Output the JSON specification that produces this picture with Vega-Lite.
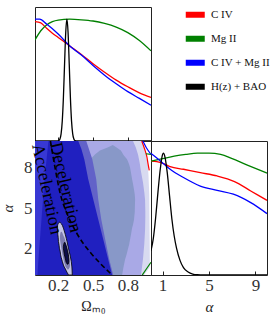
{
  "$schema": "https://vega.github.io/schema/vega-lite/v6.json",
  "padding": {"left": 0, "top": 6, "right": 5, "bottom": 5},
  "background": "white",
  "config": {
    "view": {"stroke": "#222", "strokeWidth": 1},
    "axis": {"grid": false, "domain": false, "tickSize": -4, "tickColor": "#222", "labelFont": "Liberation Serif", "labelFontSize": 17, "labelColor": "#333", "labelPadding": 6, "titleFont": "Liberation Serif", "titleFontSize": 14, "titleFontWeight": "normal", "titleColor": "#222", "titlePadding": 6},
    "axisY": {"labelPadding": 7, "titlePadding": 8},
    "line": {"interpolate": "monotone"},
    "legend": {"symbolStrokeWidth": 6}
  },
  "datasets": {
    "om": [
      {"series": "C IV", "x": 0, "p": 0.98}, {"series": "C IV", "x": 0.05, "p": 0.97}, {"series": "C IV", "x": 0.1, "p": 0.925}, {"series": "C IV", "x": 0.15, "p": 0.885}, {"series": "C IV", "x": 0.2, "p": 0.85}, {"series": "C IV", "x": 0.3, "p": 0.78}, {"series": "C IV", "x": 0.4, "p": 0.71}, {"series": "C IV", "x": 0.5, "p": 0.635}, {"series": "C IV", "x": 0.6, "p": 0.565}, {"series": "C IV", "x": 0.7, "p": 0.5}, {"series": "C IV", "x": 0.8, "p": 0.445}, {"series": "C IV", "x": 0.9, "p": 0.395}, {"series": "C IV", "x": 1.0, "p": 0.357},
      {"series": "Mg II", "x": 0, "p": 0.83}, {"series": "Mg II", "x": 0.05, "p": 0.905}, {"series": "Mg II", "x": 0.1, "p": 0.952}, {"series": "Mg II", "x": 0.15, "p": 0.98}, {"series": "Mg II", "x": 0.2, "p": 0.993}, {"series": "Mg II", "x": 0.3, "p": 1.0}, {"series": "Mg II", "x": 0.4, "p": 0.995}, {"series": "Mg II", "x": 0.5, "p": 0.985}, {"series": "Mg II", "x": 0.6, "p": 0.965}, {"series": "Mg II", "x": 0.7, "p": 0.935}, {"series": "Mg II", "x": 0.8, "p": 0.89}, {"series": "Mg II", "x": 0.9, "p": 0.825}, {"series": "Mg II", "x": 1.0, "p": 0.74},
      {"series": "C IV + Mg II", "x": 0, "p": 1.0}, {"series": "C IV + Mg II", "x": 0.04, "p": 1.0}, {"series": "C IV + Mg II", "x": 0.1, "p": 0.96}, {"series": "C IV + Mg II", "x": 0.2, "p": 0.878}, {"series": "C IV + Mg II", "x": 0.3, "p": 0.78}, {"series": "C IV + Mg II", "x": 0.4, "p": 0.705}, {"series": "C IV + Mg II", "x": 0.5, "p": 0.62}, {"series": "C IV + Mg II", "x": 0.6, "p": 0.54}, {"series": "C IV + Mg II", "x": 0.7, "p": 0.47}, {"series": "C IV + Mg II", "x": 0.8, "p": 0.405}, {"series": "C IV + Mg II", "x": 0.9, "p": 0.35}, {"series": "C IV + Mg II", "x": 1.0, "p": 0.294},
      {"series": "H(z) + BAO", "x": 0, "p": 0}, {"series": "H(z) + BAO", "x": 0.185, "p": 0.001}, {"series": "H(z) + BAO", "x": 0.205, "p": 0.004}, {"series": "H(z) + BAO", "x": 0.215, "p": 0.017}, {"series": "H(z) + BAO", "x": 0.225, "p": 0.059}, {"series": "H(z) + BAO", "x": 0.235, "p": 0.163}, {"series": "H(z) + BAO", "x": 0.245, "p": 0.36}, {"series": "H(z) + BAO", "x": 0.255, "p": 0.635}, {"series": "H(z) + BAO", "x": 0.265, "p": 0.893}, {"series": "H(z) + BAO", "x": 0.275, "p": 1.0}, {"series": "H(z) + BAO", "x": 0.285, "p": 0.893}, {"series": "H(z) + BAO", "x": 0.295, "p": 0.635}, {"series": "H(z) + BAO", "x": 0.305, "p": 0.36}, {"series": "H(z) + BAO", "x": 0.315, "p": 0.163}, {"series": "H(z) + BAO", "x": 0.325, "p": 0.059}, {"series": "H(z) + BAO", "x": 0.335, "p": 0.017}, {"series": "H(z) + BAO", "x": 0.345, "p": 0.004}, {"series": "H(z) + BAO", "x": 0.365, "p": 0.001}, {"series": "H(z) + BAO", "x": 1.0, "p": 0}
    ],
    "al": [
      {"series": "C IV", "x": 0, "p": 0.935}, {"series": "C IV", "x": 0.5, "p": 0.93}, {"series": "C IV", "x": 1.07, "p": 0.915}, {"series": "C IV", "x": 1.65, "p": 0.89}, {"series": "C IV", "x": 2.8, "p": 0.868}, {"series": "C IV", "x": 4.25, "p": 0.84}, {"series": "C IV", "x": 5.7, "p": 0.813}, {"series": "C IV", "x": 7.2, "p": 0.767}, {"series": "C IV", "x": 8.6, "p": 0.69}, {"series": "C IV", "x": 10, "p": 0.613},
      {"series": "Mg II", "x": 0, "p": 0.935}, {"series": "Mg II", "x": 1, "p": 0.955}, {"series": "Mg II", "x": 2, "p": 0.975}, {"series": "Mg II", "x": 3, "p": 0.99}, {"series": "Mg II", "x": 4, "p": 1.0}, {"series": "Mg II", "x": 5, "p": 1.0}, {"series": "Mg II", "x": 6, "p": 0.99}, {"series": "Mg II", "x": 7, "p": 0.955}, {"series": "Mg II", "x": 8, "p": 0.915}, {"series": "Mg II", "x": 9, "p": 0.875}, {"series": "Mg II", "x": 10, "p": 0.836},
      {"series": "C IV + Mg II", "x": 0, "p": 0.997}, {"series": "C IV + Mg II", "x": 0.5, "p": 0.96}, {"series": "C IV + Mg II", "x": 1.07, "p": 0.915}, {"series": "C IV + Mg II", "x": 1.65, "p": 0.868}, {"series": "C IV + Mg II", "x": 2.8, "p": 0.8}, {"series": "C IV + Mg II", "x": 4.25, "p": 0.73}, {"series": "C IV + Mg II", "x": 5.7, "p": 0.695}, {"series": "C IV + Mg II", "x": 7.1, "p": 0.663}, {"series": "C IV + Mg II", "x": 8.6, "p": 0.594}, {"series": "C IV + Mg II", "x": 10, "p": 0.504},
      {"series": "H(z) + BAO", "x": 0, "p": 0.2}, {"series": "H(z) + BAO", "x": 0.2, "p": 0.3}, {"series": "H(z) + BAO", "x": 0.4, "p": 0.47}, {"series": "H(z) + BAO", "x": 0.6, "p": 0.68}, {"series": "H(z) + BAO", "x": 0.8, "p": 0.87}, {"series": "H(z) + BAO", "x": 1.0, "p": 0.99}, {"series": "H(z) + BAO", "x": 1.07, "p": 1.0}, {"series": "H(z) + BAO", "x": 1.2, "p": 0.97}, {"series": "H(z) + BAO", "x": 1.4, "p": 0.84}, {"series": "H(z) + BAO", "x": 1.6, "p": 0.65}, {"series": "H(z) + BAO", "x": 1.8, "p": 0.46}, {"series": "H(z) + BAO", "x": 2.0, "p": 0.32}, {"series": "H(z) + BAO", "x": 2.2, "p": 0.22}, {"series": "H(z) + BAO", "x": 2.5, "p": 0.12}, {"series": "H(z) + BAO", "x": 2.8, "p": 0.06}, {"series": "H(z) + BAO", "x": 3.2, "p": 0.025}, {"series": "H(z) + BAO", "x": 3.6, "p": 0.008}, {"series": "H(z) + BAO", "x": 4.0, "p": 0.002}, {"series": "H(z) + BAO", "x": 4.5, "p": 0}, {"series": "H(z) + BAO", "x": 10, "p": 0}
    ],
    "regions": [
      {"region": "A", "om": 0, "lo": 0, "hi": 10}, {"region": "A", "om": 0.922, "lo": 0, "hi": 10}, {"region": "A", "om": 0.94, "lo": 0, "hi": 9.5}, {"region": "A", "om": 0.955, "lo": 0.18, "hi": 9.0}, {"region": "A", "om": 0.972, "lo": 0.38, "hi": 8.3}, {"region": "A", "om": 0.978, "lo": 0.45, "hi": 7.5}, {"region": "A", "om": 0.985, "lo": 0.55, "hi": 6.0}, {"region": "A", "om": 0.988, "lo": 0.58, "hi": 3.0}, {"region": "A", "om": 0.99, "lo": 0.6, "hi": 0.7},
      {"region": "B", "om": 0, "lo": 0, "hi": 10}, {"region": "B", "om": 0.845, "lo": 0, "hi": 10}, {"region": "B", "om": 0.87, "lo": 0, "hi": 9.5}, {"region": "B", "om": 0.888, "lo": 0, "hi": 9.0}, {"region": "B", "om": 0.902, "lo": 0, "hi": 8.4}, {"region": "B", "om": 0.914, "lo": 0, "hi": 7.7}, {"region": "B", "om": 0.931, "lo": 1.2, "hi": 6.9}, {"region": "B", "om": 0.942, "lo": 2.3, "hi": 6.2}, {"region": "B", "om": 0.949, "lo": 3.4, "hi": 5.6}, {"region": "B", "om": 0.951, "lo": 4.3, "hi": 4.8},
      {"region": "C", "om": 0.43, "lo": 0, "hi": 7.14}, {"region": "C", "om": 0.44, "lo": 0, "hi": 7.7}, {"region": "C", "om": 0.459, "lo": 0, "hi": 8.26}, {"region": "C", "om": 0.48, "lo": 0, "hi": 8.65}, {"region": "C", "om": 0.519, "lo": 0, "hi": 9.01}, {"region": "C", "om": 0.56, "lo": 0, "hi": 9.3}, {"region": "C", "om": 0.631, "lo": 0, "hi": 9.53}, {"region": "C", "om": 0.67, "lo": 0, "hi": 9.7}, {"region": "C", "om": 0.7, "lo": 0, "hi": 9.53}, {"region": "C", "om": 0.74, "lo": 0, "hi": 9.3}, {"region": "C", "om": 0.751, "lo": 0, "hi": 9.15}, {"region": "C", "om": 0.763, "lo": 0.6, "hi": 8.95}, {"region": "C", "om": 0.777, "lo": 1.17, "hi": 8.8}, {"region": "C", "om": 0.792, "lo": 1.6, "hi": 8.65}, {"region": "C", "om": 0.8, "lo": 1.9, "hi": 8.5}, {"region": "C", "om": 0.811, "lo": 2.25, "hi": 8.26}, {"region": "C", "om": 0.82, "lo": 2.66, "hi": 8.0}, {"region": "C", "om": 0.826, "lo": 2.95, "hi": 7.7}, {"region": "C", "om": 0.837, "lo": 3.5, "hi": 7.14}, {"region": "C", "om": 0.845, "lo": 3.75, "hi": 6.8}, {"region": "C", "om": 0.853, "lo": 4.1, "hi": 6.4}, {"region": "C", "om": 0.86, "lo": 4.7, "hi": 6.0}, {"region": "C", "om": 0.863, "lo": 5.65, "hi": 5.65},
      {"region": "E", "om": 0, "lo": 0, "hi": 10}, {"region": "E", "om": 0.442, "lo": 0, "hi": 10}, {"region": "E", "om": 0.494, "lo": 0, "hi": 8.63}, {"region": "E", "om": 0.528, "lo": 0, "hi": 7.14}, {"region": "E", "om": 0.545, "lo": 0, "hi": 5.65}, {"region": "E", "om": 0.571, "lo": 0, "hi": 4.16}, {"region": "E", "om": 0.605, "lo": 0, "hi": 2.66}, {"region": "E", "om": 0.64, "lo": 0, "hi": 1.17}, {"region": "E", "om": 0.674, "lo": 0, "hi": 0},
      {"region": "D", "om": 0, "lo": 0, "hi": 10}, {"region": "D", "om": 0.373, "lo": 0, "hi": 10}, {"region": "D", "om": 0.4, "lo": 0, "hi": 9.4}, {"region": "D", "om": 0.425, "lo": 0, "hi": 8.63}, {"region": "D", "om": 0.459, "lo": 0, "hi": 7.14}, {"region": "D", "om": 0.502, "lo": 0, "hi": 5.65}, {"region": "D", "om": 0.545, "lo": 0, "hi": 4.16}, {"region": "D", "om": 0.588, "lo": 0, "hi": 2.66}, {"region": "D", "om": 0.631, "lo": 0, "hi": 1.17}, {"region": "D", "om": 0.665, "lo": 0, "hi": 0},
      {"region": "F", "om": 0, "lo": 0, "hi": 10}, {"region": "F", "om": 0.021, "lo": 0, "hi": 10}, {"region": "F", "om": 0.03, "lo": 1.17, "hi": 10}, {"region": "F", "om": 0.056, "lo": 4.16, "hi": 10}, {"region": "F", "om": 0.082, "lo": 7.14, "hi": 10}, {"region": "F", "om": 0.116, "lo": 10, "hi": 10},
      {"region": "H1", "om": 0.193, "lo": 3.45, "hi": 3.55}, {"region": "H1", "om": 0.195, "lo": 3.25, "hi": 3.7}, {"region": "H1", "om": 0.197, "lo": 3.0, "hi": 3.77}, {"region": "H1", "om": 0.2, "lo": 2.8, "hi": 3.84}, {"region": "H1", "om": 0.202, "lo": 2.5, "hi": 3.87}, {"region": "H1", "om": 0.208, "lo": 2.2, "hi": 3.92}, {"region": "H1", "om": 0.21, "lo": 2.0, "hi": 3.93}, {"region": "H1", "om": 0.217, "lo": 1.75, "hi": 3.92}, {"region": "H1", "om": 0.221, "lo": 1.5, "hi": 3.88}, {"region": "H1", "om": 0.226, "lo": 1.3, "hi": 3.84}, {"region": "H1", "om": 0.236, "lo": 1.0, "hi": 3.7}, {"region": "H1", "om": 0.245, "lo": 0.75, "hi": 3.5}, {"region": "H1", "om": 0.252, "lo": 0.6, "hi": 3.3}, {"region": "H1", "om": 0.262, "lo": 0.45, "hi": 3.0}, {"region": "H1", "om": 0.27, "lo": 0.3, "hi": 2.72}, {"region": "H1", "om": 0.276, "lo": 0.2, "hi": 2.5}, {"region": "H1", "om": 0.288, "lo": 0.02, "hi": 2.0}, {"region": "H1", "om": 0.29, "lo": 0, "hi": 1.93}, {"region": "H1", "om": 0.302, "lo": 0, "hi": 1.5}, {"region": "H1", "om": 0.313, "lo": 0, "hi": 1.0}, {"region": "H1", "om": 0.318, "lo": 0, "hi": 0.6}, {"region": "H1", "om": 0.32, "lo": 0, "hi": 0.3}, {"region": "H1", "om": 0.321, "lo": 0, "hi": 0},
      {"region": "H2", "om": 0.215, "lo": 2.75, "hi": 2.9}, {"region": "H2", "om": 0.218, "lo": 2.5, "hi": 3.1}, {"region": "H2", "om": 0.222, "lo": 2.3, "hi": 3.2}, {"region": "H2", "om": 0.227, "lo": 2.0, "hi": 3.22}, {"region": "H2", "om": 0.232, "lo": 1.75, "hi": 3.2}, {"region": "H2", "om": 0.237, "lo": 1.5, "hi": 3.12}, {"region": "H2", "om": 0.24, "lo": 1.4, "hi": 3.05}, {"region": "H2", "om": 0.249, "lo": 1.0, "hi": 2.85}, {"region": "H2", "om": 0.253, "lo": 0.9, "hi": 2.8}, {"region": "H2", "om": 0.264, "lo": 0.6, "hi": 2.5}, {"region": "H2", "om": 0.279, "lo": 0.45, "hi": 2.0}, {"region": "H2", "om": 0.283, "lo": 0.4, "hi": 1.85}, {"region": "H2", "om": 0.291, "lo": 0.45, "hi": 1.5}, {"region": "H2", "om": 0.3, "lo": 0.6, "hi": 1.0}, {"region": "H2", "om": 0.302, "lo": 0.75, "hi": 0.8},
      {"region": "H3", "om": 0.245, "lo": 1.95, "hi": 2.15}, {"region": "H3", "om": 0.248, "lo": 1.8, "hi": 2.3}, {"region": "H3", "om": 0.253, "lo": 1.5, "hi": 2.42}, {"region": "H3", "om": 0.258, "lo": 1.35, "hi": 2.43}, {"region": "H3", "om": 0.264, "lo": 1.1, "hi": 2.3}, {"region": "H3", "om": 0.268, "lo": 0.95, "hi": 2.2}, {"region": "H3", "om": 0.272, "lo": 0.9, "hi": 2.1}, {"region": "H3", "om": 0.279, "lo": 0.8, "hi": 1.85}, {"region": "H3", "om": 0.281, "lo": 0.8, "hi": 1.8}, {"region": "H3", "om": 0.287, "lo": 0.82, "hi": 1.55}, {"region": "H3", "om": 0.288, "lo": 0.85, "hi": 1.5}, {"region": "H3", "om": 0.292, "lo": 1.0, "hi": 1.2}
    ],
    "dash": [
      {"om": 0.133, "a": 10.0}, {"om": 0.172, "a": 8.04}, {"om": 0.219, "a": 6.02}, {"om": 0.279, "a": 4.53}, {"om": 0.365, "a": 3.04}, {"om": 0.476, "a": 1.69}, {"om": 0.562, "a": 0.87}, {"om": 0.665, "a": 0}
    ],
    "contours": [
      {"series": "C IV", "seg": "r1", "om": 0.92, "a": 10}, {"series": "C IV", "seg": "r1", "om": 0.945, "a": 9.4}, {"series": "C IV", "seg": "r1", "om": 0.965, "a": 8.8}, {"series": "C IV", "seg": "r1", "om": 0.975, "a": 8.27}, {"series": "C IV", "seg": "r1", "om": 0.985, "a": 7.8},
      {"series": "C IV + Mg II", "seg": "b1", "om": 0.93, "a": 10}, {"series": "C IV + Mg II", "seg": "b1", "om": 0.96, "a": 9.5}, {"series": "C IV + Mg II", "seg": "b1", "om": 1.0, "a": 9.0},
      {"series": "Mg II", "seg": "g1", "om": 0.955, "a": 9.05}, {"series": "Mg II", "seg": "g1", "om": 1.0, "a": 9.0},
      {"series": "Mg II", "seg": "g2", "om": 0.925, "a": 0}, {"series": "Mg II", "seg": "g2", "om": 0.96, "a": 0.45}, {"series": "Mg II", "seg": "g2", "om": 1.0, "a": 0.95}
    ],
    "labels": [
      {"text": "Deceleration", "om": 0.262, "a": 6.54},
      {"text": "Acceleration", "om": 0.099, "a": 6.4}
    ]
  },
  "vconcat": [
    {
      "width": 116, "height": 134,
      "data": {"name": "om"},
      "mark": {"type": "line", "clip": true},
      "encoding": {
        "x": {"field": "x", "type": "quantitative", "scale": {"domain": [0, 1], "nice": false, "zero": false}, "axis": {"values": [0.2, 0.5, 0.8], "labels": false, "title": null}},
        "y": {"field": "p", "type": "quantitative", "scale": {"domain": [0, 1.1], "nice": false}, "axis": null},
        "strokeWidth": {"value": 1.3},
        "color": {"field": "series", "type": "nominal",
          "scale": {"domain": ["C IV", "Mg II", "C IV + Mg II", "H(z) + BAO"], "range": ["#ff0000", "#008000", "#0000ff", "#000000"]},
          "legend": {"orient": "none", "legendX": 152.25, "legendY": -0.25, "title": null, "symbolType": "M-2,0H2", "symbolSize": 90.25, "symbolStrokeWidth": 6, "labelFont": "Liberation Serif", "labelFontSize": 11, "labelColor": "#111", "rowPadding": 0, "labelOffset": 7.75}
        }
      }
    },
    {
      "hconcat": [
        {
          "width": 116, "height": 134,
          "layer": [
            {"data": {"name": "regions"}, "transform": [{"filter": "datum.region === 'A'"}], "mark": {"type": "area", "fill": "#d8daf0", "clip": true},
             "encoding": {"x": {"field": "om", "type": "quantitative", "scale": {"domain": [0, 1], "nice": false, "zero": false}, "axis": {"values": [0.2, 0.5, 0.8], "format": ".1f", "title": "Ωₘ₀"}},
                          "y": {"field": "lo", "type": "quantitative", "scale": {"domain": [0, 10], "nice": false}, "axis": {"values": [2, 5, 8], "title": "α", "titleFontStyle": "italic", "titleFontSize": 15}},
                          "y2": {"field": "hi"}}},
            {"data": {"name": "regions"}, "transform": [{"filter": "datum.region === 'B'"}], "mark": {"type": "area", "fill": "#a9a9e6", "clip": true},
             "encoding": {"x": {"field": "om", "type": "quantitative"}, "y": {"field": "lo", "type": "quantitative"}, "y2": {"field": "hi"}}},
            {"data": {"name": "regions"}, "transform": [{"filter": "datum.region === 'C'"}], "mark": {"type": "area", "fill": "#8898c8", "clip": true},
             "encoding": {"x": {"field": "om", "type": "quantitative"}, "y": {"field": "lo", "type": "quantitative"}, "y2": {"field": "hi"}}},
            {"data": {"name": "regions"}, "transform": [{"filter": "datum.region === 'E'"}], "mark": {"type": "area", "fill": "#6262c8", "clip": true},
             "encoding": {"x": {"field": "om", "type": "quantitative"}, "y": {"field": "lo", "type": "quantitative"}, "y2": {"field": "hi"}}},
            {"data": {"name": "regions"}, "transform": [{"filter": "datum.region === 'D'"}], "mark": {"type": "area", "fill": "#2020c0", "clip": true},
             "encoding": {"x": {"field": "om", "type": "quantitative"}, "y": {"field": "lo", "type": "quantitative"}, "y2": {"field": "hi"}}},
            {"data": {"name": "regions"}, "transform": [{"filter": "datum.region === 'F'"}], "mark": {"type": "area", "fill": "#3838d4", "clip": true},
             "encoding": {"x": {"field": "om", "type": "quantitative"}, "y": {"field": "lo", "type": "quantitative"}, "y2": {"field": "hi"}}},
            {"data": {"name": "regions"}, "transform": [{"filter": "datum.region === 'H1'"}], "mark": {"type": "area", "fill": "#c4c4e6", "stroke": "#000", "strokeWidth": 0.8, "clip": true},
             "encoding": {"x": {"field": "om", "type": "quantitative"}, "y": {"field": "lo", "type": "quantitative"}, "y2": {"field": "hi"}}},
            {"data": {"name": "regions"}, "transform": [{"filter": "datum.region === 'H2'"}], "mark": {"type": "area", "fill": "#7c7cb0", "clip": true},
             "encoding": {"x": {"field": "om", "type": "quantitative"}, "y": {"field": "lo", "type": "quantitative"}, "y2": {"field": "hi"}}},
            {"data": {"name": "regions"}, "transform": [{"filter": "datum.region === 'H3'"}], "mark": {"type": "area", "fill": "#0c0c48", "stroke": "#000", "strokeWidth": 0.8, "clip": true},
             "encoding": {"x": {"field": "om", "type": "quantitative"}, "y": {"field": "lo", "type": "quantitative"}, "y2": {"field": "hi"}}},
            {"data": {"name": "contours"}, "mark": {"type": "line", "strokeWidth": 1.2, "clip": true},
             "encoding": {"y": {"field": "a", "type": "quantitative"}, "x": {"field": "om", "type": "quantitative"}, "detail": {"field": "seg"},
                          "stroke": {"field": "series", "type": "nominal", "scale": {"domain": ["C IV", "Mg II", "C IV + Mg II"], "range": ["#ff0000", "#008000", "#0000ff"]}, "legend": null}}},
            {"data": {"name": "dash"}, "mark": {"type": "line", "stroke": "#000", "strokeWidth": 1.6, "strokeDash": [5, 3], "clip": true},
             "encoding": {"y": {"field": "a", "type": "quantitative"}, "x": {"field": "om", "type": "quantitative"}}},
            {"data": {"name": "labels"}, "transform": [{"filter": "datum.text === 'Deceleration'"}], "mark": {"type": "text", "angle": 77, "font": "Liberation Serif", "fontSize": 18, "color": "#000", "align": "center", "baseline": "middle"},
             "encoding": {"y": {"field": "a", "type": "quantitative"}, "x": {"field": "om", "type": "quantitative"}, "text": {"field": "text"}}},
            {"data": {"name": "labels"}, "transform": [{"filter": "datum.text === 'Acceleration'"}], "mark": {"type": "text", "angle": 78, "font": "Liberation Serif", "fontSize": 18, "color": "#000", "align": "center", "baseline": "middle"},
             "encoding": {"y": {"field": "a", "type": "quantitative"}, "x": {"field": "om", "type": "quantitative"}, "text": {"field": "text"}}}
          ]
        },
        {
          "width": 116, "height": 134,
          "data": {"name": "al"},
          "mark": {"type": "line", "clip": true},
          "encoding": {
            "x": {"field": "x", "type": "quantitative", "scale": {"domain": [0, 10], "nice": false, "zero": false}, "axis": {"values": [1, 5, 9], "title": "α", "titleFontStyle": "italic", "titleFontSize": 15}},
            "y": {"field": "p", "type": "quantitative", "scale": {"domain": [0, 1.1], "nice": false}, "axis": null},
            "strokeWidth": {"value": 1.3},
            "color": {"field": "series", "type": "nominal",
              "legend": {"orient": "none", "legendX": 152.25, "legendY": -0.25, "title": null, "symbolType": "M-2,0H2", "symbolSize": 90.25, "symbolStrokeWidth": 6, "labelFont": "Liberation Serif", "labelFontSize": 11, "labelColor": "#111", "rowPadding": 0, "labelOffset": 7.75}}
          }
        }
      ],
      "spacing": 0,
      "bounds": "flush"
    }
  ],
  "spacing": 0,
  "bounds": "flush"
}
